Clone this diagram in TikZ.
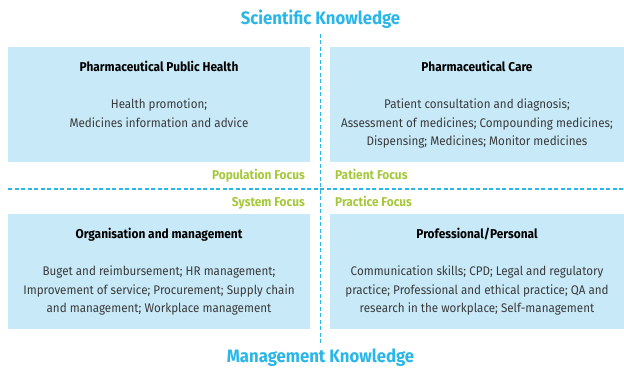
\documentclass[tikz,border=0pt]{standalone}
\usepackage{fontspec}
\setmainfont{Fira Sans}[FakeStretch=0.93]
\usepackage{xcolor}
\usetikzlibrary{positioning}
\definecolor{kcyan}{HTML}{29B6E8}
\definecolor{kblue}{HTML}{C7E9F8}
\definecolor{kgreen}{HTML}{A6C83C}
\definecolor{kgrey}{HTML}{3A3A3A}
\tikzstyle{every node}+=[inner sep=0pt]
\tikzstyle{box}=[fill=kblue, minimum height=115pt]
\tikzstyle{head}=[font=\fontsize{12.8}{15}\selectfont\bfseries, text=black, anchor=base]
\tikzstyle{body}=[font=\fontsize{12.5}{18.5}\selectfont, text=kgrey, align=center, anchor=north]
\tikzstyle{focus}=[font=\fontsize{12.8}{15}\selectfont\bfseries, text=kgreen]
\tikzstyle{know}=[font=\fontsize{18}{21}\selectfont\bfseries, text=kcyan, anchor=base]
\tikzstyle{divider}=[kcyan, line width=1.1pt, dash pattern=on 4pt off 2.5pt]

\begin{document}
\begin{tikzpicture}[x=1pt,y=1pt]
\useasboundingbox (0,0) rectangle (624,367);

% the four areas
\node (pph) [box, minimum width=302pt] at (159,262.5) {};
\node (pc)  [box, minimum width=294pt] at (477,262.5) {};
\node (om)  [box, minimum width=302pt] at (159,95.5) {};
\node (pp)  [box, minimum width=294pt] at (477,95.5) {};

% dividers
\coordinate (vtop) at (320.5,333);
\coordinate (vbot) at (320.5,21);
\coordinate (hleft) at (8,178);
\coordinate (hright) at (624,178);
\draw [divider] (vtop) -- (vbot);
\draw [divider] (hleft) -- (hright);

% headings and contents
\node (pphhead) [head] at ([yshift=-24.7pt]pph.north) {Pharmaceutical Public Health};
\node (pphbody) [body, below=52pt of pph.north] {Health promotion;\\Medicines information and advice};

\node (pchead) [head] at ([yshift=-24.7pt]pc.north) {Pharmaceutical Care};
\node (pcbody) [body, below=52pt of pc.north] {Patient consultation and diagnosis;\\Assessment of medicines; Compounding medicines;\\Dispensing; Medicines; Monitor medicines};

\node (omhead) [head] at ([yshift=-24.7pt]om.north) {Organisation and management};
\node (ombody) [body, below=52pt of om.north] {Buget and reimbursement; HR management;\\Improvement of service; Procurement; Supply chain\\and management; Workplace management};

\node (pphead) [head] at ([yshift=-24.7pt]pp.north) {Professional/Personal};
\node (ppbody) [body, below=52pt of pp.north] {Communication skills; CPD; Legal and regulatory\\practice; Professional and ethical practice; QA and\\research in the workplace; Self-management};

% focus labels
\node (popfocus) [focus, anchor=base east] at (305,187) {Population Focus};
\node (patfocus) [focus, anchor=base west] at (335,187) {Patient Focus};
\node (sysfocus) [focus, anchor=base east] at (305,160.3) {System Focus};
\node (pracfocus) [focus, anchor=base west] at (335,160.3) {Practice Focus};

% knowledge axes
\node (sci) [know] at (320.5,342.7) {Scientific Knowledge};
\node (man) [know] at (320.5,5) {Management Knowledge};
\end{tikzpicture}
\end{document}
